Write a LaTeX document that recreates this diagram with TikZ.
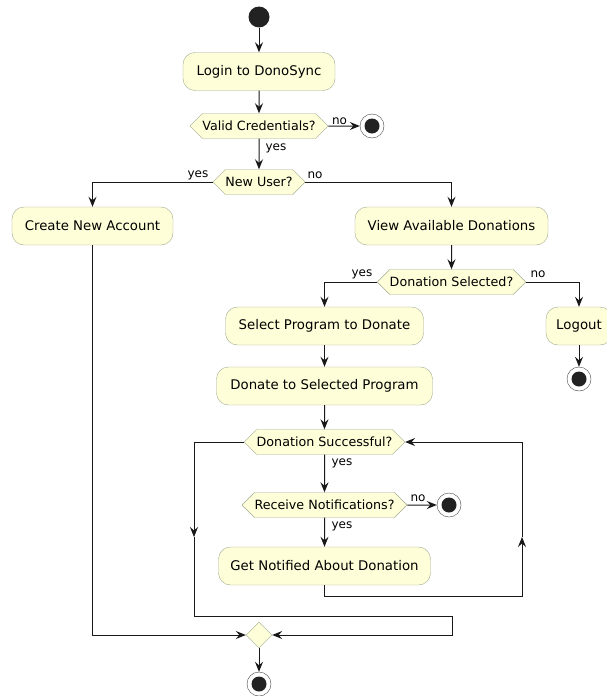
\documentclass[tikz,border=0pt]{standalone}
\usepackage{fontspec}
\setmainfont{DejaVu Sans}
\usetikzlibrary{arrows.meta, shapes.symbols, shapes.geometric}
\definecolor{act-fill}{HTML}{FEFED8}
\definecolor{act-border}{HTML}{A0AA90}
\definecolor{flow-line}{HTML}{181818}
\definecolor{dot-fill}{HTML}{222222}

\begin{document}
\begin{tikzpicture}[x=1pt, y=-1pt,
      every node/.style={font=\fontsize{13.3}{15}\selectfont},
      act/.style={draw=act-border, fill=act-fill, rounded corners=12pt,
          minimum height=38pt, inner sep=0pt},
      hexa/.style={draw=act-border, fill=act-fill, shape=signal,
          signal to=east and west, signal pointer angle=90,
          minimum height=25pt, inner xsep=0pt, inner ysep=0pt,
          font=\fontsize{12.7}{14}\selectfont},
      lbl/.style={inner sep=0pt, font=\fontsize{12}{14}\selectfont},
      flow/.style={draw=flow-line, line width=1pt,
          -{Stealth[length=10pt, width=8pt, inset=3.5pt]}},
      startdot/.style={circle, fill=dot-fill, minimum size=21pt, inner sep=0pt},
      enddot/.style={circle, draw=flow-line!80, fill=white, minimum size=24pt,
          inner sep=0pt, path picture={\fill[dot-fill]
          (path picture bounding box.center) circle (7.5pt);}},
      mergebox/.style={diamond, draw=act-border, fill=act-fill,
          minimum size=26pt, inner sep=0pt}]
    \useasboundingbox (0,0) rectangle (606,696);
    \node[startdot] (START) at (259,17) {};
    \node[act, minimum width=152pt] (LOGIN) at (259,71.5) {Login to DonoSync};
    \node[hexa] (VALID) at (259,126) {Valid Credentials?};
    \node[enddot] (END1) at (372,126) {};
    \node[hexa] (NEWUSER) at (259,182) {New User?};
    \node[act, minimum width=161pt] (CREATE) at (92.5,226) {Create New Account};
    \node[act, minimum width=193pt] (VIEW) at (451.5,226)
          {View Available Donations};
    \node[hexa] (DONSEL) at (451.5,282) {Donation Selected?};
    \node[act, minimum width=198pt] (SELECT) at (324.5,326)
          {Select Program to Donate};
    \node[act, minimum width=66pt] (LOGOUT) at (579,326) {Logout};
    \node[enddot] (END2) at (579,379) {};
    \node[act, minimum width=216pt] (DONATE) at (324.5,386)
          {Donate to Selected Program};
    \node[hexa] (DONSUCC) at (324.5,442) {Donation Successful?};
    \node[hexa] (RECV) at (324.5,505) {Receive Notifications?};
    \node[enddot] (END3) at (449,505) {};
    \node[act, minimum width=212pt] (NOTIFY) at (324.5,566)
          {Get Notified About Donation};
    \node[mergebox] (MERGE) at (259,635) {};
    \node[enddot] (END4) at (259,684) {};
    \coordinate (LBEND) at (194,537);
    \coordinate (LJOIN) at (452,616);
    \coordinate (RJOIN) at (522,596);
    \coordinate (RBEND) at (522,537);
    \draw[flow] (START) -- (LOGIN);
    \draw[flow] (LOGIN) -- (VALID);
    \draw[flow] (VALID) -- (END1);
    \node[lbl] (VNO) at (339.5,121) {no};
    \draw[flow] (VALID) -- (NEWUSER);
    \node[lbl] (VYES) at (276,148) {yes};
    \draw[flow] (NEWUSER.west) -| (CREATE);
    \node[lbl] (NYES) at (198,175) {yes};
    \draw[flow] (NEWUSER.east) -| (VIEW);
    \node[lbl] (NNO) at (315,175) {no};
    \draw[flow] (VIEW) -- (DONSEL);
    \draw[flow] (DONSEL.west) -| (SELECT);
    \node[lbl] (SYES) at (362,274) {yes};
    \draw[flow] (DONSEL.east) -| (LOGOUT);
    \node[lbl] (SNO) at (538,274) {no};
    \draw[flow] (LOGOUT) -- (END2);
    \draw[flow] (SELECT) -- (DONATE);
    \draw[flow] (DONATE) -- (DONSUCC);
    \draw[flow] (DONSUCC) -- (RECV);
    \node[lbl] (DYES) at (342,463) {yes};
    \draw[flow] (RECV) -- (END3);
    \node[lbl] (RNO) at (418,498) {no};
    \draw[flow] (RECV) -- (NOTIFY);
    \node[lbl] (RYES) at (342,526) {yes};
    \draw[flow] (DONSUCC.west) -| (LBEND);
    \draw[flow] (LBEND) |- (LJOIN) |- (MERGE.east);
    \draw[flow] (NOTIFY) |- (RJOIN) -- (RBEND);
    \draw[flow] (RBEND) |- (DONSUCC.east);
    \draw[flow] (CREATE) |- (MERGE.west);
    \draw[flow] (MERGE) -- (END4);
  \end{tikzpicture}
\end{document}
